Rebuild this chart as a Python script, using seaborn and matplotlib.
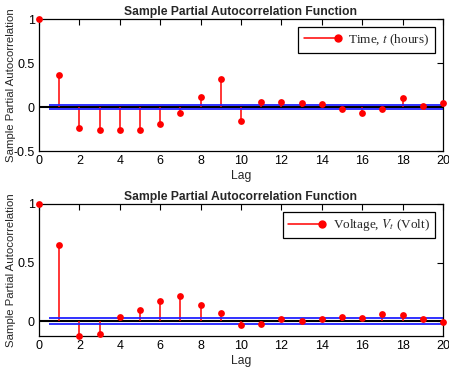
import numpy as np
import pandas as pd
import matplotlib
matplotlib.use("Agg")
import matplotlib.pyplot as plt
from matplotlib.lines import Line2D
from matplotlib.legend_handler import HandlerBase
import seaborn as sns

lags = list(range(21))
pacf_time = [1.0, 0.367, -0.243, -0.26, -0.26, -0.26, -0.19, -0.068, 0.117, 0.32,
             -0.156, 0.057, 0.06, 0.041, 0.03, -0.027, -0.072, -0.019, 0.106, 0.008, 0.041]
pacf_volt = [1.0, 0.647, -0.124, -0.109, 0.032, 0.092, 0.17, 0.218, 0.141, 0.072,
             -0.037, -0.026, 0.02, 0.0, 0.02, 0.034, 0.029, 0.057, 0.055, 0.017, -0.006]
bound_time = 0.026
bound_volt = 0.023
labels = ["Time, $t$ (hours)", "Voltage, $V_t$ (Volt)"]


# matlab-like stem legend entry: line with the dot at the right end
class StemHandler(HandlerBase):
    def create_artists(self, legend, orig_handle, xdescent, ydescent,
                       width, height, fontsize, trans):
        y = height / 2 - ydescent
        line = Line2D([-xdescent, width - xdescent], [y, y], color="red", lw=1.1)
        dot = Line2D([width - xdescent], [y], color="red", marker="o",
                     markersize=5, ls="none")
        line.set_transform(trans)
        dot.set_transform(trans)
        return [line, dot]


sns.set_style("white")
plt.rcParams['font.family'] = ['Liberation Sans', 'DejaVu Sans']
plt.rcParams['mathtext.fontset'] = 'stix'

fig = plt.figure(figsize=(4.49, 3.73), dpi=100)
W, H = 449, 373
ax1 = fig.add_axes([39 / W, 1 - 151 / H, 404 / W, 132 / H])
ax2 = fig.add_axes([39 / W, 1 - 336 / H, 404 / W, 132 / H])

panels = [(ax1, pacf_time, bound_time, labels[0], (-0.5, 1), [-0.5, 0, 0.5, 1]),
          (ax2, pacf_volt, bound_volt, labels[1], (-0.128, 1), [0, 0.5, 1])]

for ax, vals, bnd, lab, ylim, yt in panels:
    df = pd.DataFrame({"lag": lags, "pacf": vals})
    ax.vlines(df["lag"], 0, df["pacf"], color="red", lw=1.1, zorder=2)
    sns.scatterplot(data=df, x="lag", y="pacf", ax=ax, color="red", s=24,
                    edgecolor="red", linewidth=0, zorder=3, clip_on=False)
    ax.axhline(0, color="black", lw=1.5, zorder=1)
    ax.hlines([bnd, -bnd], 0.5, 20, color="#2020ff", lw=1.3, zorder=2)
    ax.set_xlim(0, 20)
    ax.set_ylim(*ylim)
    ax.set_xticks(range(0, 21, 2))
    ax.set_yticks(yt)
    ax.set_yticklabels([f"{v:g}" for v in yt])
    ax.tick_params(direction="in", top=True, right=True, length=4, width=0.8,
                   labelsize=9, pad=3, colors="black")
    for s in ax.spines.values():
        s.set_color("black")
        s.set_linewidth(0.9)
    ax.set_title("Sample Partial Autocorrelation Function", fontsize=8.7,
                 fontweight="bold", pad=3)
    ax.set_xlabel("Lag", fontsize=8.7, labelpad=2)
    ax.set_ylabel("Sample Partial Autocorrelation", fontsize=8.2)
    ax.yaxis.set_label_coords(-0.058, 0.5)
    leg = ax.legend([object()], [lab], loc="upper right",
                    handler_map={object: StemHandler()},
                    fancybox=False, framealpha=1, edgecolor="black",
                    prop={"family": "Liberation Serif", "size": 9.5},
                    handlelength=2.6, borderaxespad=0.6, borderpad=0.4)
    leg.get_frame().set_linewidth(0.9)
    ax.grid(False)

fig.savefig("out.png", dpi=100)
